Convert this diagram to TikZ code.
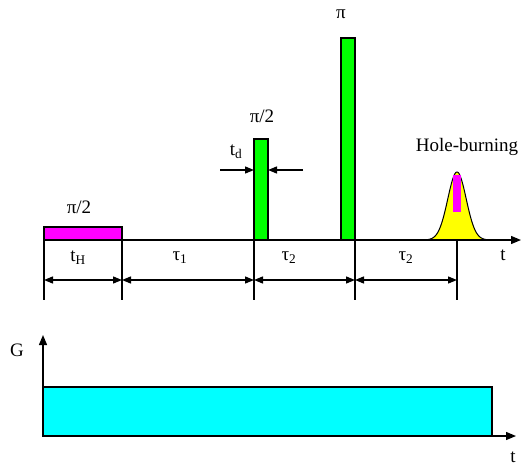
\documentclass[tikz,border=0pt]{standalone}
\usepackage{fontspec}
\setmainfont{Liberation Serif}
\usetikzlibrary{arrows.meta}
\definecolor{pgreen}{RGB}{0,255,0}
\definecolor{pmag}{RGB}{255,0,255}
\definecolor{pyel}{RGB}{255,255,0}
\definecolor{pcyan}{RGB}{0,255,255}
\begin{document}
\begin{tikzpicture}[x=1pt,y=-1pt,
  line width=1.3pt,
  lbl/.style={font=\fontsize{19}{22}\selectfont, inner sep=0pt},
  dimarrow/.style={{Triangle[length=9pt,width=7pt]}-{Triangle[length=9pt,width=7pt]}},
  onearrow/.style={-{Triangle[length=9pt,width=7pt]}},
  axisarrow/.style={-{Triangle[length=10pt,width=8pt]}}]
\useasboundingbox (0,0) rectangle (522,466);
% coordinates
\coordinate (a0) at (44,240);
\coordinate (aend) at (521,240);
% pulses
\draw[fill=pmag] (44,227) rectangle (122,240);
\draw[fill=pgreen] (254,139) rectangle (268,240);
\draw[fill=pgreen] (341,38) rectangle (355,240);
% gaussian echo
\draw[fill=pyel, line width=1pt] plot[domain=425:489, samples=90, smooth] (\x,{240-68*exp(-((\x-457)/13)^2)});
\fill[pmag] (453,175) rectangle (461,212);
% time axis
\draw[axisarrow] (a0) -- (aend);
% ticks
\foreach \n/\x in {t1/44,t2/122,t3/254,t4/355,t5/457}{
  \coordinate (\n top) at (\x,240);
  \coordinate (\n bot) at (\x,300);
  \coordinate (\n m) at (\x,280);
  \draw (\n top) -- (\n bot);
}
\draw[dimarrow] (t1m) -- (t2m);
\draw[dimarrow] (t2m) -- (t3m);
\draw[dimarrow] (t3m) -- (t4m);
\draw[dimarrow] (t4m) -- (t5m);
% td arrows
\coordinate (tdl0) at (220,170);
\coordinate (tdl1) at (254,170);
\coordinate (tdr0) at (303,170);
\coordinate (tdr1) at (268,170);
\draw[onearrow] (tdl0) -- (tdl1);
\draw[onearrow] (tdr0) -- (tdr1);
% labels
\node[lbl] (lpiH) at (79,207) {π/2};
\node[lbl] (lpi2) at (262,116) {π/2};
\node[lbl] (lpi) at (341,14) {π};
\node[lbl] (ltd) at (236,152) {t\textsubscript{d}};
\node[lbl] (lhb) at (467,147) {Hole-burning};
\node[lbl] (ltH) at (78,258) {t\textsubscript{H}};
\node[lbl] (ltau1) at (180,258) {τ\textsubscript{1}};
\node[lbl] (ltau2) at (289,258) {τ\textsubscript{2}};
\node[lbl] (ltau2b) at (406,258) {τ\textsubscript{2}};
\node[lbl] (lt) at (503,255) {t};
% gradient
\coordinate (g0) at (43,436);
\coordinate (gtop) at (43,335);
\coordinate (gend) at (516,436);
\draw[fill=pcyan] (43,387) rectangle (492,436);
\draw[axisarrow] (g0) -- (gtop);
\draw[axisarrow] (g0) -- (gend);
\node[lbl] (lG) at (17,350) {G};
\node[lbl] (lt2) at (513,457) {t};
\end{tikzpicture}
\end{document}
